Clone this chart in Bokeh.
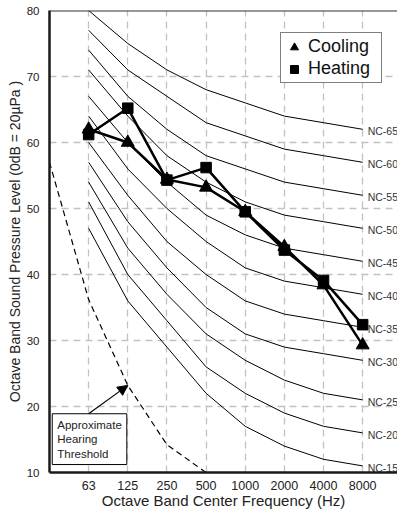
from bokeh.plotting import figure
from bokeh.models import (Range1d, FixedTicker, Span, Label, Arrow, NormalHead,
                          Legend, LegendItem, ColumnDataSource)
from bokeh.embed import file_html
from bokeh.resources import INLINE
from bokeh.core.properties import value

# ---------------- data ----------------
freqs = ["63", "125", "250", "500", "1000", "2000", "4000", "8000"]
nc_names = ["NC-15", "NC-20", "NC-25", "NC-30", "NC-35", "NC-40",
            "NC-45", "NC-50", "NC-55", "NC-60", "NC-65"]
nc15 = [47, 36, 29, 22, 17, 14, 12, 11]
nc20 = [51, 40, 33, 26, 22, 19, 17, 16]
nc25 = [54, 44, 37, 31, 27, 24, 22, 21]
nc30 = [57, 48, 41, 35, 31, 29, 28, 27]
nc35 = [60, 52, 45, 40, 36, 34, 33, 32]
nc40 = [64, 56, 50, 45, 41, 39, 38, 37]
nc45 = [67, 60, 54, 49, 46, 44, 43, 42]
nc50 = [71, 64, 58, 54, 51, 49, 48, 47]
nc55 = [74, 67, 62, 58, 56, 54, 53, 52]
nc60 = [77, 71, 67, 63, 61, 59, 58, 57]
nc65 = [80, 75, 71, 68, 66, 64, 63, 62]
nc_curves = [nc15, nc20, nc25, nc30, nc35, nc40, nc45, nc50, nc55, nc60, nc65]

cooling = [62.0, 60.0, 54.4, 53.2, 49.5, 44.2, 38.4, 29.3]
heating = [61.2, 65.2, 54.3, 56.2, 49.5, 43.7, 39.1, 32.4]

# hearing threshold (31.5 Hz band sits one step left of 63 Hz)
threshold_pos = [-1, 0, 1, 2, 3]
threshold = [57.0, 36.2, 23.2, 14.2, 10.0]

y_ticks = [10, 20, 30, 40, 50, 60, 70, 80]
grid_y = [20, 30, 40, 50, 60, 70]

FONT = "Liberation Sans"
xi = list(range(len(freqs)))

p = figure(width=397, height=512, x_range=Range1d(-1.0, 7.89), y_range=Range1d(10, 80),
           output_backend="svg", toolbar_location=None,
           min_border_left=49, min_border_right=0, min_border_top=10, min_border_bottom=40)
p.outline_line_color = None
p.background_fill_color = "white"
p.border_fill_color = "white"

# grids
p.xgrid.ticker = FixedTicker(ticks=xi)
p.ygrid.ticker = FixedTicker(ticks=grid_y)
for g in (p.xgrid, p.ygrid):
    g.grid_line_color = "#c2c2c2"
    g.grid_line_dash = "7 5"
    g.grid_line_width = 1.3

# axes
p.xaxis.ticker = FixedTicker(ticks=xi)
p.xaxis.major_label_overrides = {i: f for i, f in zip(xi, freqs)}
p.yaxis.ticker = FixedTicker(ticks=y_ticks)
for ax in (p.xaxis, p.yaxis):
    ax.major_tick_line_color = None
    ax.minor_tick_line_color = None
    ax.axis_line_color = "#1a1a1a"
    ax.axis_line_width = 2.5
    ax.major_label_text_font = FONT
    ax.major_label_text_color = "#222222"
    ax.axis_label_text_font = FONT
    ax.axis_label_text_font_style = "normal"
    ax.axis_label_text_color = "#222222"
p.xaxis.axis_label_text_font_size = "15px"
p.yaxis.axis_label_text_font_size = "14px"
p.xaxis.major_label_text_font_size = "12.5px"
p.yaxis.major_label_text_font_size = "11.5px"
p.xaxis.major_label_standoff = 2
p.yaxis.major_label_standoff = 4
p.xaxis.axis_label = "Octave Band Center Frequency (Hz)"
p.yaxis.axis_label = "Octave Band Sound Pressure Level (0dB = 20\u00b5Pa )"
p.xaxis.axis_label_standoff = -1
p.yaxis.axis_label_standoff = 1

# top border
p.add_layout(Span(location=80, dimension="width", line_color="#333333", line_width=2))

# NC curves
for name, vals in zip(nc_names, nc_curves):
    p.line(xi, vals, line_color="black", line_width=1)
label_src = ColumnDataSource(dict(x=[xi[-1]] * len(nc_names),
                                  y=[c[-1] for c in nc_curves], t=nc_names))
p.text(x="x", y="y", text="t", source=label_src, x_offset=5, y_offset=2,
       text_font=value(FONT), text_font_size="10.5px", text_color="#333333",
       text_baseline="middle", text_align="left")

# hearing threshold
p.line(threshold_pos, threshold, line_color="black", line_width=1.2, line_dash="6 4")

# data series
p.line(xi, cooling, line_color="black", line_width=2.5)
p.line(xi, heating, line_color="black", line_width=2.5)
rc = p.scatter(xi, cooling, marker="triangle", size=13, fill_color="black", line_color="black")
rh = p.scatter(xi, heating, marker="square", size=10.5, fill_color="black", line_color="black")

legend = Legend(items=[LegendItem(label="Cooling", renderers=[rc]),
                       LegendItem(label="Heating", renderers=[rh])],
                location=(231, 389), label_text_font=FONT, label_text_font_size="18px",
                label_text_color="#111111",
                glyph_width=20, glyph_height=20, padding=3, spacing=1, label_standoff=4,
                label_width=70, border_line_color="black", border_line_width=1,
                margin=0, background_fill_alpha=1.0)
p.add_layout(legend)

# annotation
p.add_layout(Label(x=-0.93, y=18.9, text="Approximate\nHearing\nThreshold",
                   text_font=FONT, text_font_size="11.5px", text_color="#222222",
                   text_align="left", text_baseline="top", padding=5,
                   border_line_color="black", border_line_width=1,
                   background_fill_color="white"))
p.add_layout(Arrow(end=NormalHead(size=10, fill_color="black", line_color="black"),
                   x_start=0, y_start=18.9, x_end=1, y_end=23.2,
                   line_color="black", line_width=1.2))

open("out.html", "w").write(file_html(p, INLINE))
